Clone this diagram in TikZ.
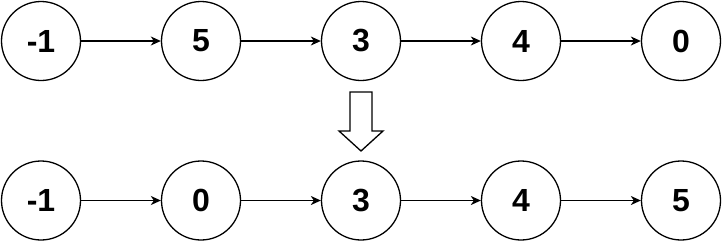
\documentclass[tikz,border=0pt]{standalone}
\usepackage{fontspec}
\setmainfont{Liberation Sans}
\usetikzlibrary{arrows.meta}
\begin{document}
\begin{tikzpicture}[x=1pt,y=-1pt,
  nodecirc/.style={circle,draw=black,line width=1.3pt,minimum size=79pt,inner sep=0pt,font=\fontsize{32}{36}\selectfont\bfseries},
  link/.style={draw=black,line width=1.3pt,-{Stealth[length=10pt,width=9pt,inset=3pt]}}]
\useasboundingbox (0,0) rectangle (722,242);
\foreach \n/\t [count=\i from 0] in {a1/-1,a2/5,a3/3,a4/4,a5/0}{
  \node[nodecirc] (\n) at (41+160*\i,41) {\t};
}
\foreach \n/\t [count=\i from 0] in {b1/-1,b2/0,b3/3,b4/4,b5/5}{
  \node[nodecirc] (\n) at (41+160*\i,200.5) {\t};
}
\foreach \p/\q in {a1/a2,a2/a3,a3/a4,a4/a5,b1/b2,b2/b3,b3/b4,b4/b5}{
  \draw[link] (\p) -- (\q);
}
\draw[line width=1.3pt,line join=miter,fill=white] (350,92) -- (372,92) -- (372,131) -- (383,131) -- (361,151) -- (339,131) -- (350,131) -- cycle;
\end{tikzpicture}
\end{document}
